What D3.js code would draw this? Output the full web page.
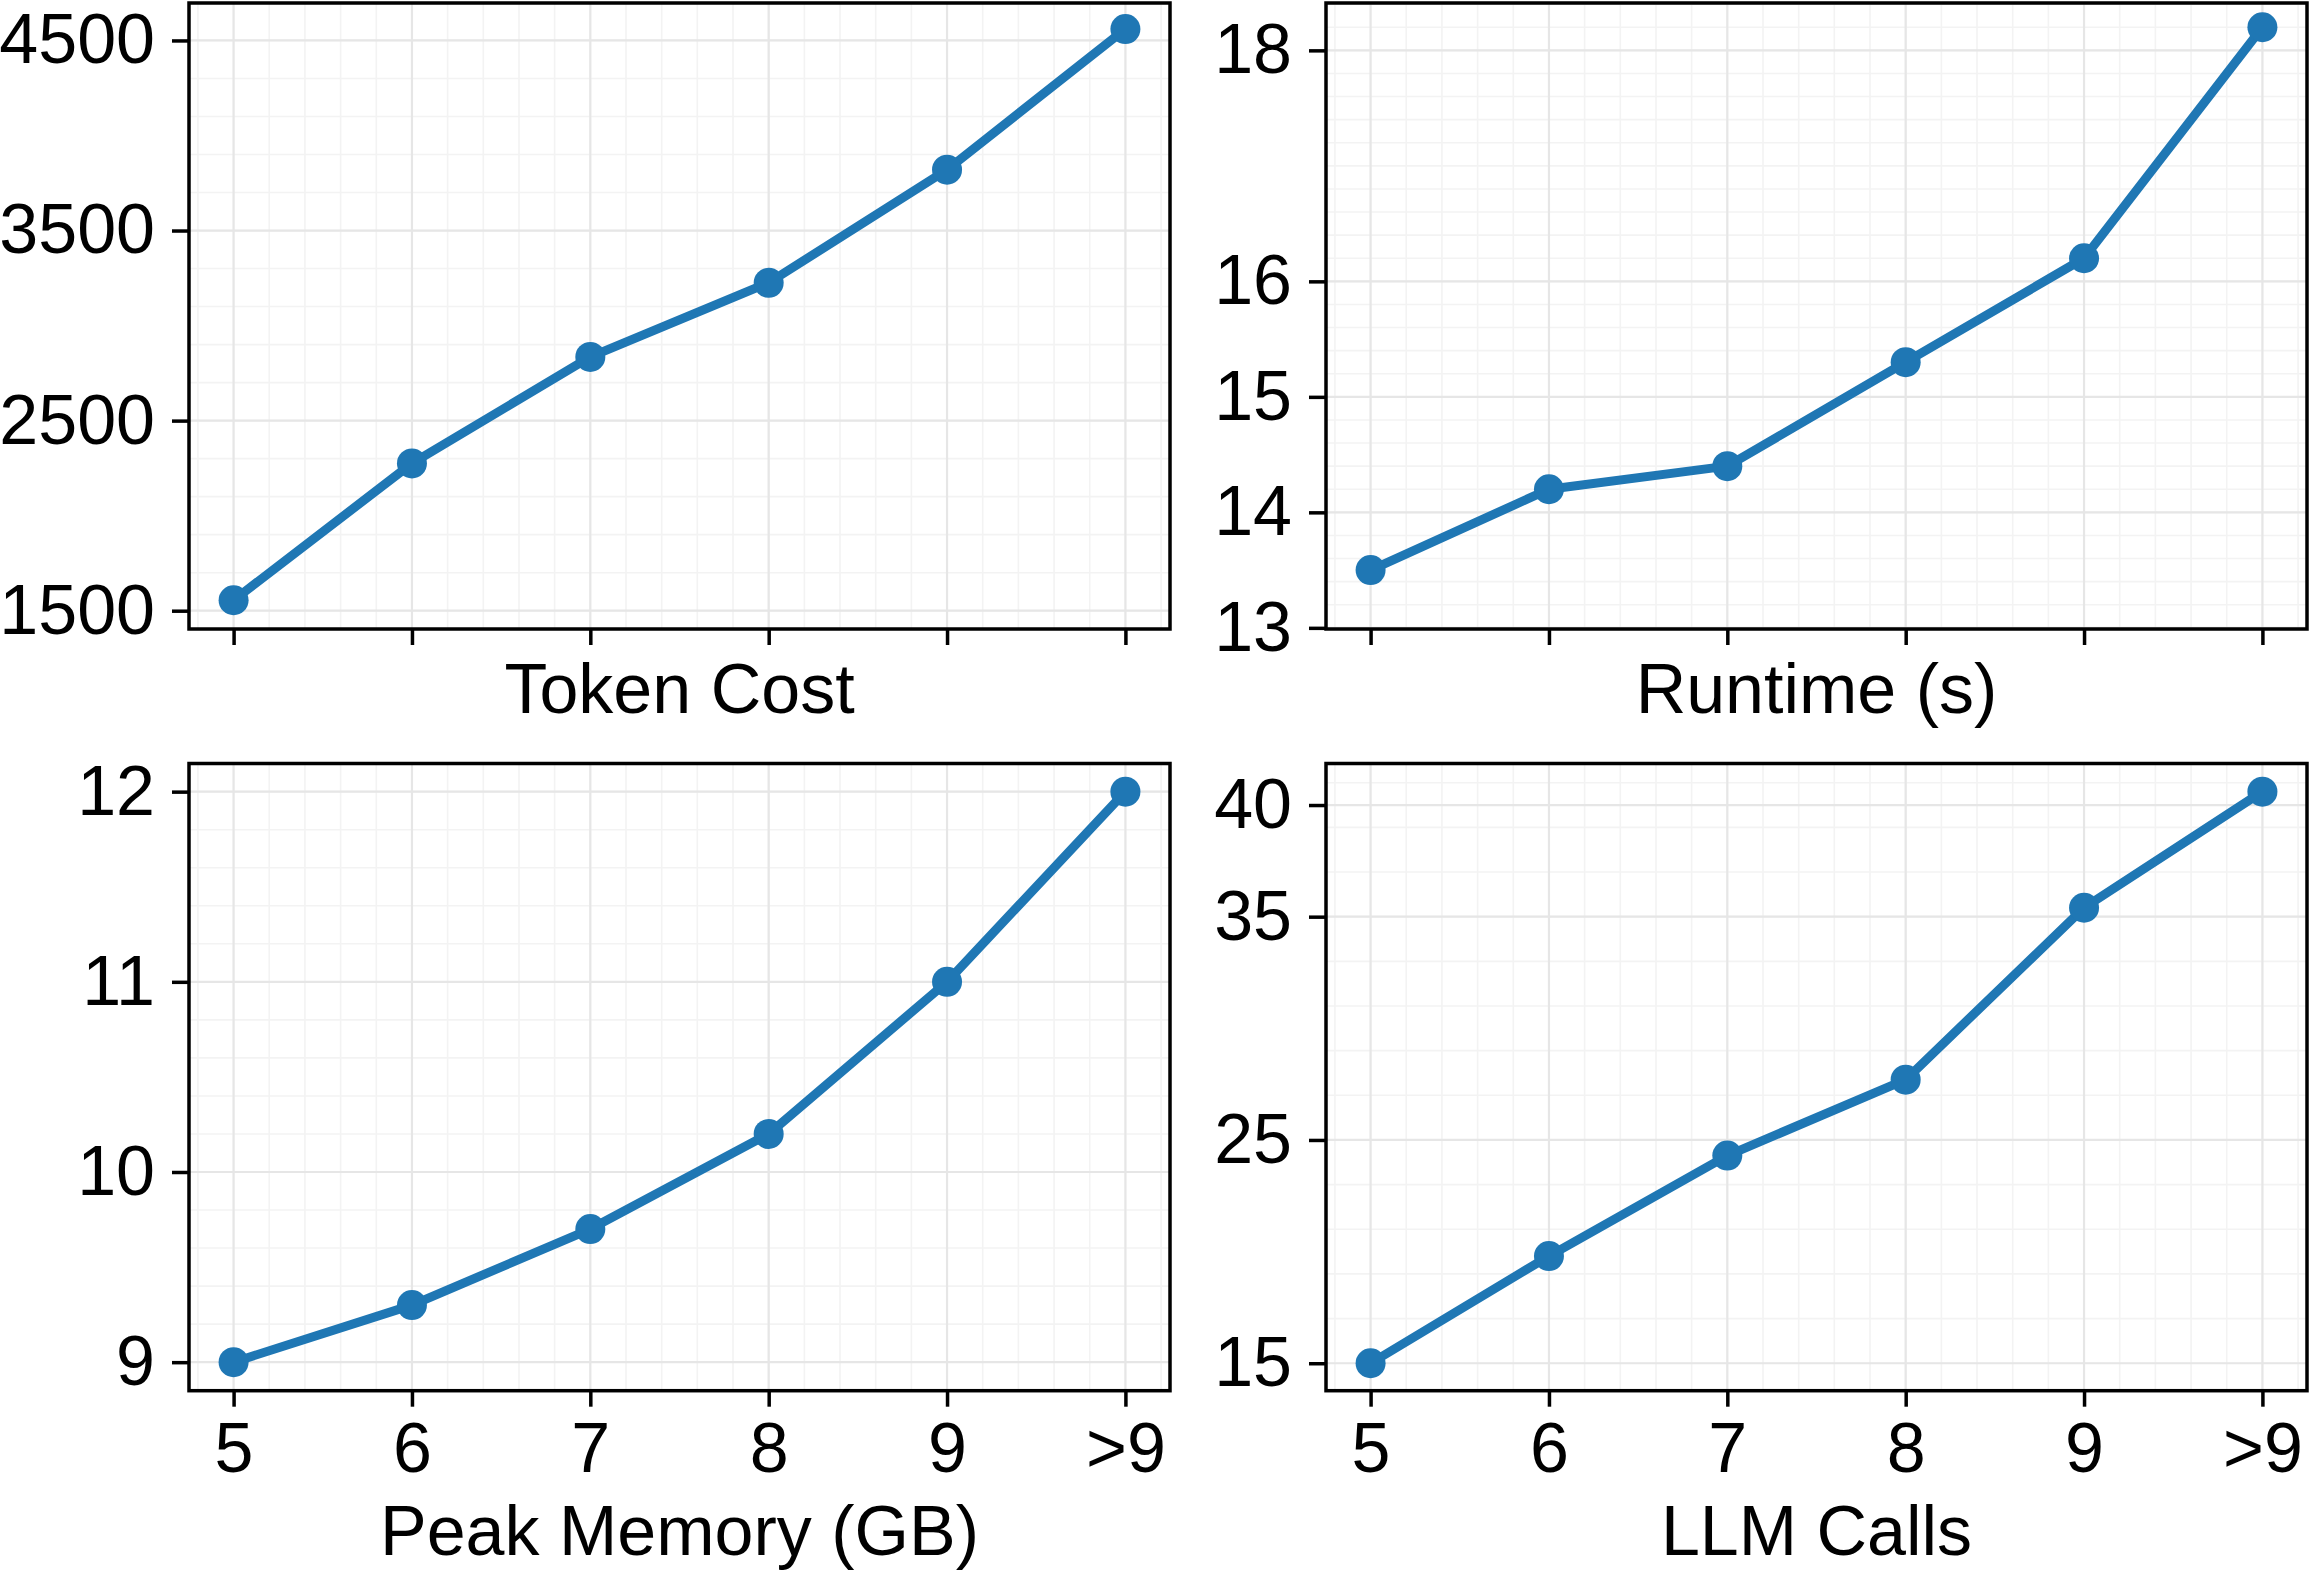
<!DOCTYPE html>
<html>
<head>
<meta charset="utf-8">
<script src="https://cdn.jsdelivr.net/npm/d3@7"></script>
<style>
  body { margin: 0; background: #fff; }
  svg { display: block; }
  .tick text { font-family: "Liberation Sans", Arial, sans-serif; font-size: 70px; fill: #000; }
  .axis-label { font-family: "Liberation Sans", Arial, sans-serif; font-size: 70px; fill: #000; }
</style>
</head>
<body>
<svg id="chart" width="2310" height="1570"></svg>
<script>
var d3 = window.d3;

// x categories (shared by all four panels)
var categories = ['5', '6', '7', '8', '9', '>9'];

// series values
var tokenCost = [1555, 2275, 2835, 3225, 3820, 4560];
var runtime = [13.5, 14.2, 14.4, 15.3, 16.2, 18.2];
var peakMemory = [9.0, 9.3, 9.7, 10.2, 11.0, 12.0];
var llmCalls = [15.0, 19.8, 24.3, 27.7, 35.4, 40.6];

// y tick labels as they appear
var tokenTicks = [1500, 2500, 3500, 4500];
var runtimeTicks = [13, 14, 15, 16, 18];
var memoryTicks = [9, 10, 11, 12];
var callsTicks = [15, 25, 35, 40];

var color = '#1f77b4';

var panels = [
  { label: 'Token Cost', values: tokenCost, ticks: tokenTicks, minorStep: 200,
    domain: [1403.7, 4697], x0: 189, x1: 1170, y0: 3, y1: 629, showX: false },
  { label: 'Runtime (s)', values: runtime, ticks: runtimeTicks, minorStep: 0.2,
    domain: [12.99, 18.41], x0: 1326, x1: 2307, y0: 3, y1: 629, showX: false },
  { label: 'Peak Memory (GB)', values: peakMemory, ticks: memoryTicks, minorStep: 0.2,
    domain: [8.85, 12.148], x0: 189, x1: 1170, y0: 763.5, y1: 1390.7, showX: true },
  { label: 'LLM Calls', values: llmCalls, ticks: callsTicks, minorStep: 2,
    domain: [13.77, 41.86], x0: 1326, x1: 2307, y0: 763.5, y1: 1390.7, showX: true }
];

var svg = d3.select('#chart');

var stepsWithin = function(origin, step, lo, hi) {
  var out = [];
  var k = Math.ceil((lo - origin) / step - 1e-9);
  for (var v = origin + k * step; v <= hi + 1e-9; k++, v = origin + k * step) {
    out.push(+v.toFixed(6));
  }
  return out;
};

panels.forEach(function(p) {
  var g = svg.append('g');

  var xScale = d3.scaleLinear().domain([-0.25, categories.length - 0.75]).range([p.x0, p.x1]);
  var yScale = d3.scaleLinear().domain(p.domain).range([p.y1, p.y0]);

  var xMinor = stepsWithin(0, 0.2, -0.25, categories.length - 0.75);
  var yMinor = stepsWithin(p.ticks[0], p.minorStep, p.domain[0], p.domain[1]);

  // minor grid
  g.append('g').selectAll('line').data(xMinor).enter().append('line')
    .attr('x1', function(d) { return xScale(d); })
    .attr('x2', function(d) { return xScale(d); })
    .attr('y1', p.y0).attr('y2', p.y1)
    .attr('stroke', '#f3f3f3').attr('stroke-width', 1.6);
  g.append('g').selectAll('line').data(yMinor).enter().append('line')
    .attr('x1', p.x0).attr('x2', p.x1)
    .attr('y1', function(d) { return yScale(d); })
    .attr('y2', function(d) { return yScale(d); })
    .attr('stroke', '#f3f3f3').attr('stroke-width', 1.6);

  // major grid
  g.append('g').selectAll('line').data(d3.range(categories.length)).enter().append('line')
    .attr('x1', function(d) { return xScale(d); })
    .attr('x2', function(d) { return xScale(d); })
    .attr('y1', p.y0).attr('y2', p.y1)
    .attr('stroke', '#e6e6e6').attr('stroke-width', 2.2);
  g.append('g').selectAll('line').data(p.ticks).enter().append('line')
    .attr('x1', p.x0).attr('x2', p.x1)
    .attr('y1', function(d) { return yScale(d); })
    .attr('y2', function(d) { return yScale(d); })
    .attr('stroke', '#e6e6e6').attr('stroke-width', 2.2);

  // series
  var line = d3.line()
    .x(function(d, i) { return xScale(i); })
    .y(function(d) { return yScale(d); });

  g.append('path')
    .datum(p.values)
    .attr('d', line)
    .attr('fill', 'none')
    .attr('stroke', color)
    .attr('stroke-width', 9)
    .attr('stroke-linejoin', 'round');

  g.append('g').selectAll('circle').data(p.values).enter().append('circle')
    .attr('cx', function(d, i) { return xScale(i); })
    .attr('cy', function(d) { return yScale(d); })
    .attr('r', 15)
    .attr('fill', color);

  // axes
  var yAxis = d3.axisLeft(yScale)
    .tickValues(p.ticks)
    .tickSize(17)
    .tickPadding(17)
    .tickFormat(d3.format('d'));
  var ya = g.append('g').attr('transform', 'translate(' + p.x0 + ',0)').call(yAxis);

  var xAxis = d3.axisBottom(xScale)
    .tickValues(d3.range(categories.length))
    .tickSize(16)
    .tickPadding(16)
    .tickFormat(function(i) { return p.showX ? categories[i] : ''; });
  var xa = g.append('g').attr('transform', 'translate(0,' + p.y1 + ')').call(xAxis);

  [ya, xa].forEach(function(a) {
    a.select('.domain').remove();
    a.selectAll('.tick line').attr('stroke', '#000').attr('stroke-width', 3.5);
    a.attr('font-size', null).attr('font-family', null);
  });

  // frame
  g.append('rect')
    .attr('x', p.x0).attr('y', p.y0)
    .attr('width', p.x1 - p.x0).attr('height', p.y1 - p.y0)
    .attr('fill', 'none')
    .attr('stroke', '#000')
    .attr('stroke-width', 3.5);

  g.append('text')
    .attr('class', 'axis-label')
    .attr('x', (p.x0 + p.x1) / 2)
    .attr('y', p.showX ? p.y1 + 164 : p.y1 + 84)
    .attr('text-anchor', 'middle')
    .text(p.label);
});
</script>
</body>
</html>
